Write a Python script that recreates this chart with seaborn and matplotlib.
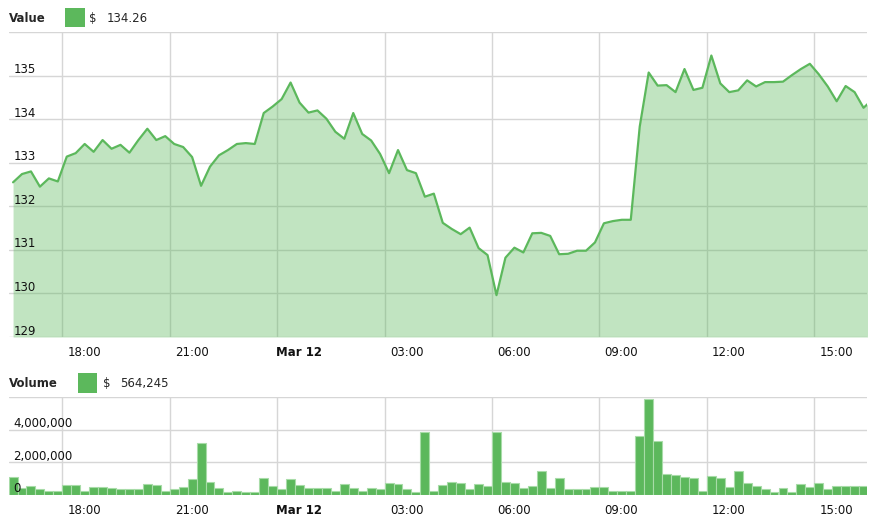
import numpy as np
import matplotlib
matplotlib.use("Agg")
import matplotlib.pyplot as plt
import seaborn as sns
from matplotlib.transforms import ScaledTranslation, blended_transform_factory
from matplotlib.patches import Rectangle

# ---------------- data ----------------
start_hour = 16.625      # first 15-minute slot centre (Mar 11, 16:37)
step_hours = 0.25        # 15 minutes

values = [132.55, 132.74, 132.80, 132.45, 132.64, 132.57, 133.14, 133.22, 133.43, 133.25,
          133.52, 133.32, 133.41, 133.23, 133.52, 133.78, 133.52, 133.61, 133.43, 133.36,
          133.13, 132.47, 132.91, 133.17, 133.29, 133.43, 133.45, 133.43, 134.14, 134.29,
          134.46, 134.84, 134.38, 134.15, 134.20, 134.01, 133.71, 133.55, 134.14, 133.66,
          133.51, 133.20, 132.76, 133.29, 132.83, 132.76, 132.22, 132.29, 131.62, 131.48,
          131.36, 131.51, 131.04, 130.88, 129.96, 130.82, 131.05, 130.94, 131.38, 131.39,
          131.32, 130.90, 130.91, 130.98, 130.98, 131.17, 131.61, 131.66, 131.69, 131.69,
          133.83, 135.07, 134.77, 134.78, 134.62, 135.15, 134.67, 134.72, 135.46, 134.82,
          134.62, 134.66, 134.89, 134.75, 134.85, 134.85, 134.86, 135.01, 135.15, 135.27,
          135.03, 134.75, 134.41, 134.76, 134.62, 134.26, 134.45]

volumes = [1090000, 390000, 530000, 330000, 250000, 250000, 590000, 590000, 250000, 450000,
           450000, 390000, 330000, 330000, 330000, 660000, 590000, 250000, 330000, 450000,
           940000, 3200000, 800000, 390000, 180000, 250000, 180000, 180000, 1000000, 530000,
           330000, 940000, 590000, 390000, 390000, 390000, 250000, 660000, 390000, 250000,
           390000, 330000, 740000, 660000, 330000, 160000, 3860000, 250000, 590000, 800000,
           740000, 330000, 660000, 530000, 3860000, 800000, 740000, 390000, 530000, 1440000,
           390000, 1000000, 330000, 330000, 330000, 450000, 450000, 250000, 250000, 250000,
           3610000, 5890000, 3320000, 1290000, 1230000, 1090000, 1030000, 250000, 1150000, 1030000,
           450000, 1440000, 740000, 530000, 330000, 160000, 390000, 160000, 660000, 450000,
           740000, 330000, 530000, 530000, 530000, 564245]

tick_hours = [18, 21, 24, 27, 30, 33, 36, 39]
tick_labels = ["18:00", "21:00", "Mar 12", "03:00", "06:00", "09:00", "12:00", "15:00"]
value_ticks = [129, 130, 131, 132, 133, 134, 135, 136]
value_tick_labels = ["129", "130", "131", "132", "133", "134", "135", ""]
volume_ticks = [0, 2000000, 4000000, 6000000]
volume_tick_labels = ["0", "2,000,000", "4,000,000", ""]
value_title = "Value"
volume_title = "Volume"
value_legend = "134.26"
volume_legend = "564,245"

hours_v = start_hour + step_hours * np.arange(len(values))
hours_b = start_hour + step_hours * np.arange(len(volumes))

# ---------------- style ----------------
sns.set_style("white")
plt.rcParams["font.family"] = ["DejaVu Sans"]
GREEN = "#5cb85c"
GRID = "#d6d6d6"
FS = 8.5

W, H = 877, 520
fig = plt.figure(figsize=(W / 100, H / 100), dpi=100)

def fx(px):
    return px / W

def fy(py):
    return 1 - py / H

left_px, right_px = 9.3, 866.7
ax1 = fig.add_axes([fx(left_px), fy(337), (right_px - left_px) / W, (337 - 32) / H])
ax2 = fig.add_axes([fx(left_px), fy(494.7), (right_px - left_px) / W, (494.7 - 397) / H])

px_per_hour = 35.81
x_left = 18 - (62.3 - left_px) / px_per_hour
x_right = x_left + (right_px - left_px) / px_per_hour

# ----- value chart -----
ax1.fill_between(hours_v, values, value_ticks[0], color=GREEN, alpha=0.38, linewidth=0, zorder=1)
sns.lineplot(x=hours_v, y=values, ax=ax1, color=GREEN, linewidth=1.6, zorder=3)

# ----- volume chart -----
sns.barplot(x=hours_b, y=volumes, ax=ax2, native_scale=True, width=1.0, color=GREEN,
            saturation=1, edgecolor="#a8dca8", linewidth=0.8, errorbar=None, zorder=2)

for ax, yt, ylabels in ((ax1, value_ticks, value_tick_labels), (ax2, volume_ticks, volume_tick_labels)):
    ax.set_xlim(x_left, x_right)
    ax.set_ylim(yt[0], yt[-1])
    ax.set_xticks(tick_hours)
    ax.set_yticks(yt)
    ax.tick_params(length=0, labelbottom=False, labelleft=False)
    ax.grid(True, color=GRID, linewidth=1.0)
    ax.set_axisbelow(True)
    ax.set_xlabel("")
    ax.set_ylabel("")
    for s in ax.spines.values():
        s.set_visible(False)
    ytrans = blended_transform_factory(ax.transAxes, ax.transData) + \
        ScaledTranslation(4 / 100, 2.4 / 100, fig.dpi_scale_trans)
    for v, lab in zip(yt, ylabels):
        if lab:
            ax.text(0, v, lab, transform=ytrans, ha="left", va="baseline",
                    fontsize=FS, color="#111111", zorder=5)
    xtrans = blended_transform_factory(ax.transData, ax.transAxes) + \
        ScaledTranslation(22 / 100, -15.5 / 100, fig.dpi_scale_trans)
    for h, lab in zip(tick_hours, tick_labels):
        ax.text(h, 0, lab, transform=xtrans, ha="center", va="center", fontsize=FS,
                color="#111111", fontweight="bold" if lab.startswith("Mar") else "normal",
                clip_on=False)

# ----- legends / titles -----
fig.text(fx(9.3), fy(18), value_title, fontsize=FS, fontweight="bold", va="center", ha="left")
fig.add_artist(Rectangle((fx(65.3), fy(26.7)), (85 - 65.3) / W, (26.7 - 8.3) / H,
                         transform=fig.transFigure, facecolor=GREEN, edgecolor="none"))
fig.text(fx(89.3), fy(18), "$", fontsize=FS, va="center", ha="left")
fig.text(fx(107), fy(18), value_legend, fontsize=FS, va="center", ha="left")

fig.text(fx(9.3), fy(383.3), volume_title, fontsize=FS, fontweight="bold", va="center", ha="left")
fig.add_artist(Rectangle((fx(78.3), fy(392.7)), (96.7 - 78.3) / W, (392.7 - 373.3) / H,
                         transform=fig.transFigure, facecolor=GREEN, edgecolor="none"))
fig.text(fx(102.7), fy(383.3), "$", fontsize=FS, va="center", ha="left")
fig.text(fx(119.7), fy(383.3), volume_legend, fontsize=FS, va="center", ha="left")

fig.savefig("out.png", dpi=100, facecolor="white")
